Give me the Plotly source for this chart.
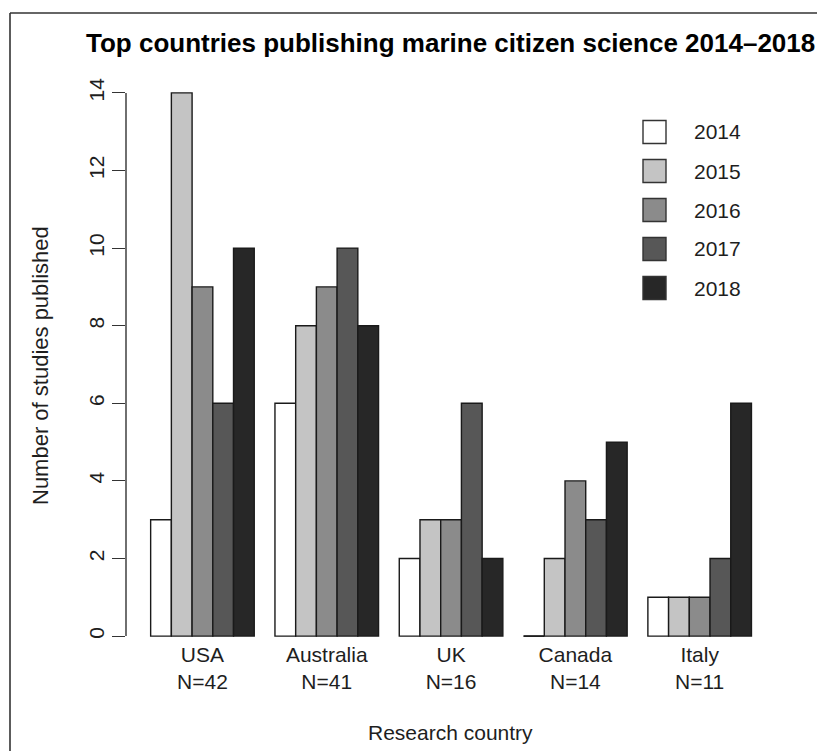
import plotly.graph_objects as go

countries = ["USA", "Australia", "UK", "Canada", "Italy"]
n_totals = [42, 41, 16, 14, 11]
years = ["2014", "2015", "2016", "2017", "2018"]
values = {
    "2014": [3, 6, 2, 0, 1],
    "2015": [14, 8, 3, 2, 1],
    "2016": [9, 9, 3, 4, 1],
    "2017": [6, 10, 6, 3, 2],
    "2018": [10, 8, 2, 5, 6],
}
colors = ["#ffffff", "#c4c4c4", "#8b8b8b", "#575757", "#272727"]
y_ticks = [0, 2, 4, 6, 8, 10, 12, 14]

W, H = 817, 751
L, R, T, B = 126, 817 - 775, 89, 751 - 640
PW, PH = W - L - R, H - T - B
FONT = "Liberation Sans, Arial, Helvetica, sans-serif"
EDGE = "#1a1a1a"
TXT = "#1e1e1e"


def px(x):
    return (x - L) / PW


def py(y):
    return (H - B - y) / PH


cat_idx = list(range(len(countries)))
fig = go.Figure()
for k, yr in enumerate(years):
    fig.add_trace(go.Bar(
        x=cat_idx, y=values[yr], name=yr,
        marker=dict(color=colors[k], line=dict(color=EDGE, width=1.4)),
        showlegend=False,
    ))

shapes = []
nser = len(years)
bw = 1.0 / (nser + 1)
# zero-height bars drawn as flat lines (as in base R barplot)
for k, yr in enumerate(years):
    for i, v in enumerate(values[yr]):
        if v == 0:
            c0 = i - nser * bw / 2 + k * bw
            shapes.append(dict(type="line", xref="x", yref="y", x0=c0, x1=c0 + bw,
                               y0=0, y1=0, line=dict(color=EDGE, width=1.6)))

# y axis line spanning tick range only
shapes.append(dict(type="line", xref="paper", yref="y", x0=0, x1=0,
                   y0=y_ticks[0], y1=y_ticks[-1], line=dict(color="#333333", width=1.4)))

# outer frame (top and left)
shapes.append(dict(type="line", xref="paper", yref="paper", x0=px(10), x1=px(817),
                   y0=py(13), y1=py(13), line=dict(color="#333333", width=1.6)))
shapes.append(dict(type="line", xref="paper", yref="paper", x0=px(10), x1=px(10),
                   y0=py(13), y1=py(751), line=dict(color="#333333", width=1.6)))

annotations = []
# manual legend
for k, yr in enumerate(years):
    cy = 132 + 39 * k
    shapes.append(dict(type="rect", xref="paper", yref="paper",
                       x0=px(643), x1=px(666), y0=py(cy + 11.5), y1=py(cy - 11.5),
                       fillcolor=colors[k], line=dict(color="#333333", width=1.4)))
    annotations.append(dict(text=yr, xref="paper", yref="paper", x=px(692), y=py(cy),
                            xanchor="left", yanchor="middle", showarrow=False,
                            font=dict(size=21, color=TXT, family=FONT)))

annotations.append(dict(text="<b>Top countries publishing marine citizen science 2014–2018</b>",
                        xref="paper", yref="paper", x=px(450), y=py(43),
                        xanchor="center", yanchor="middle", showarrow=False,
                        font=dict(size=26, color="#000000", family=FONT)))
annotations.append(dict(text="Research country", xref="paper", yref="paper",
                        x=px(450), y=py(733), xanchor="center", yanchor="middle",
                        showarrow=False, font=dict(size=21, color=TXT, family=FONT)))
annotations.append(dict(text="Number of studies published", xref="paper", yref="paper",
                        x=px(40), y=py(366), xanchor="center", yanchor="middle",
                        textangle=-90, showarrow=False,
                        font=dict(size=22, color=TXT, family=FONT)))

tick_text = [f"{c}<br>N={n}" for c, n in zip(countries, n_totals)]

fig.update_layout(
    width=W, height=H,
    margin=dict(l=L, r=R, t=T, b=B),
    paper_bgcolor="white", plot_bgcolor="white",
    barmode="group", bargap=bw, bargroupgap=0,
    font=dict(family=FONT, size=21, color=TXT),
    shapes=shapes, annotations=annotations,
    xaxis=dict(tickmode="array", tickvals=cat_idx, ticktext=tick_text,
               range=[-0.615, 4.606], showline=False, showgrid=False, zeroline=False,
               ticks="", tickfont=dict(size=21, family=FONT, color=TXT)),
    yaxis=dict(range=[-0.1, 14.1], tickvals=y_ticks, ticks="outside", ticklen=13,
               tickwidth=1.4, tickcolor="#333333", showline=False, showgrid=False,
               zeroline=False, tickangle=-90,
               tickfont=dict(size=21, family=FONT, color=TXT)),
)

fig.write_html("out.html")
